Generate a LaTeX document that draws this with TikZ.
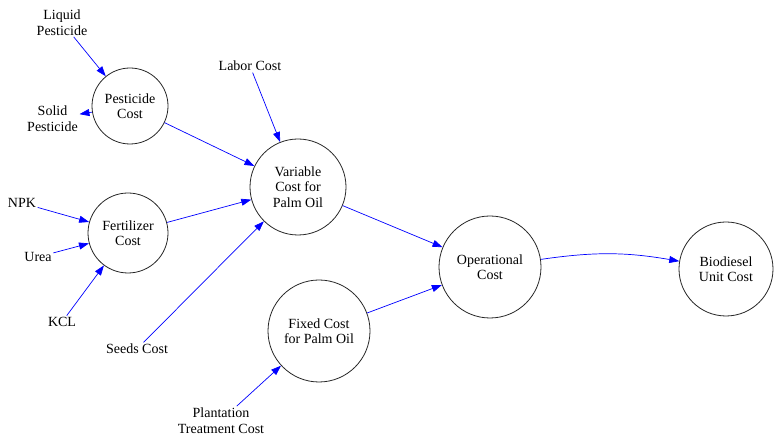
\documentclass[tikz,border=0pt]{standalone}
\usepackage{fontspec}
\setmainfont{Liberation Serif}
\usetikzlibrary{arrows.meta}
\begin{document}
\begin{tikzpicture}[x=1pt,y=-1pt,
  txt/.style={font=\fontsize{14}{15.5}\selectfont, align=center, inner sep=1.5pt},
  costnode/.style={txt, circle, draw=black!85, line width=0.8pt, inner sep=0pt},
  flow/.style={draw=blue, line width=0.7pt, -{Triangle[length=10pt,width=7pt]}}]
\useasboundingbox (0,0) rectangle (774,435);

% cost nodes
\node[costnode, minimum size=76pt]  (pest) at (130,106) {Pesticide\\Cost};
\node[costnode, minimum size=80pt]  (fert) at (128,233) {Fertilizer\\Cost};
\node[costnode, minimum size=96pt]  (var)  at (298,187) {Variable\\Cost for\\Palm Oil};
\node[costnode, minimum size=102pt] (fix)  at (319,331) {Fixed Cost\\for Palm Oil};
\node[costnode, minimum size=102pt] (op)   at (490,267) {Operational\\Cost};
\node[costnode, minimum size=94pt]  (bio)  at (726,269) {Biodiesel\\Unit Cost};

% input items
\node[txt] (liquid) at (62,22.5)  {Liquid\\Pesticide};
\node[txt] (solid)  at (52.5,118.5) {Solid\\Pesticide};
\node[txt] (npk)    at (22,203)   {NPK};
\node[txt] (urea)   at (38,257)   {Urea};
\node[txt] (kcl)    at (62,322)   {KCL};
\node[txt] (seeds)  at (137,349)  {Seeds Cost};
\node[txt] (labor)  at (250,66)   {Labor Cost};
\node[txt] (plant)  at (221,420.5){Plantation\\Treatment Cost};

% connectors
\draw[flow] (liquid) -- (pest);
\draw[flow] (pest) -- (solid);
\draw[flow] (npk) -- (fert);
\draw[flow] (urea) -- (fert);
\draw[flow] (kcl) -- (fert);
\draw[flow] (pest) -- (var);
\draw[flow] (fert) -- (var);
\draw[flow] (seeds) -- (var);
\draw[flow] (labor) -- (var);
\draw[flow] (plant) -- (fix);
\draw[flow] (var) -- (op);
\draw[flow] (fix) -- (op);
\draw[flow] (op) to[bend left=9] (bio);
\end{tikzpicture}
\end{document}
